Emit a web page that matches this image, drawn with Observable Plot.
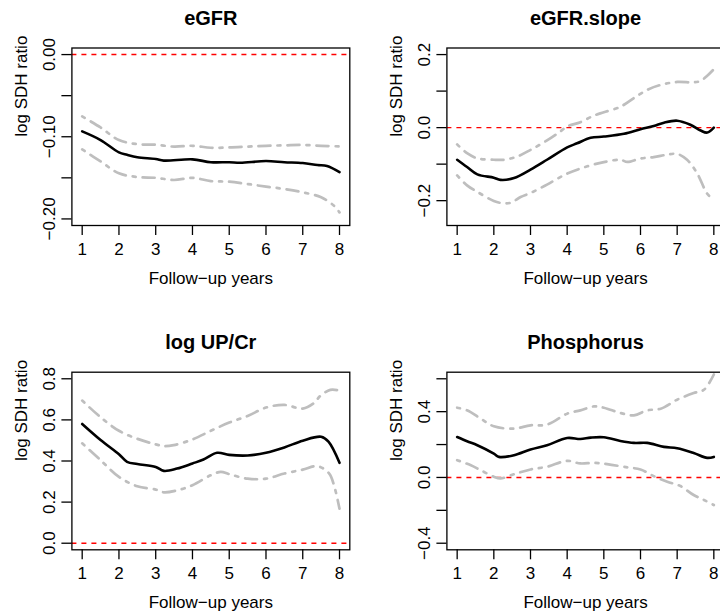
<!DOCTYPE html>
<html><head><meta charset="utf-8">
<script src="https://cdn.jsdelivr.net/npm/d3@7"></script>
<script src="https://cdn.jsdelivr.net/npm/@observablehq/plot@0.6"></script>
<style>
html,body{margin:0;padding:0;background:#fff;overflow:hidden}
#wrap{position:relative;width:720px;height:615px;overflow:hidden;background:#fff}
#wrap svg{position:absolute}
</style></head><body><div id="wrap"></div>
<script>
// ---------- data ----------
const titles = ["eGFR", "eGFR.slope", "log UP/Cr", "Phosphorus"];
const xTicks = [1, 2, 3, 4, 5, 6, 7, 8];
const xLabel = "Follow\u2212up years";
const yLabel = "log SDH ratio";

// eGFR
const egfrEstYears = [1, 1.5, 2, 2.22, 2.5, 3, 3.22, 4, 4.5, 5, 5.3, 6, 6.5, 7, 7.4, 7.66, 8];
const egfrEst = [-0.0935, -0.104, -0.119, -0.122, -0.125, -0.127, -0.129, -0.1275, -0.131, -0.131, -0.1316, -0.1296, -0.131, -0.132, -0.1344, -0.1355, -0.143];
const egfrHiYears = [1, 1.5, 2, 2.5, 3, 3.5, 4, 4.5, 5, 5.5, 6, 6.5, 7, 7.5, 8];
const egfrHi = [-0.0753, -0.0887, -0.104, -0.109, -0.1097, -0.112, -0.111, -0.1134, -0.113, -0.112, -0.111, -0.1105, -0.110, -0.111, -0.1117];
const egfrLoYears = [1, 1.5, 2, 2.5, 3, 3.5, 4, 4.5, 5, 5.5, 6, 6.5, 7, 7.5, 7.85, 8];
const egfrLo = [-0.1154, -0.130, -0.1445, -0.149, -0.150, -0.1526, -0.150, -0.154, -0.1547, -0.1575, -0.1607, -0.1636, -0.1676, -0.1737, -0.184, -0.192];
const egfrYTicks = [0, -0.05, -0.1, -0.15, -0.2];
const egfrYLabels = ["0.00", "", "\u22120.10", "", "\u22120.20"];

// eGFR.slope
const slopeEstYears = [1, 1.27, 1.55, 2, 2.18, 2.55, 3, 3.45, 4, 4.27, 4.64, 5, 5.55, 6, 6.36, 6.64, 7, 7.36, 7.64, 7.82, 8];
const slopeEst = [-0.088, -0.108, -0.128, -0.137, -0.143, -0.138, -0.115, -0.088, -0.054, -0.043, -0.028, -0.0245, -0.017, -0.0045, 0.0045, 0.0136, 0.019, 0.008, -0.008, -0.0136, 0.0];
const slopeHiYears = [1, 1.27, 1.55, 2, 2.27, 2.64, 3, 3.45, 3.82, 4, 4.36, 4.73, 5, 5.45, 5.82, 6.18, 6.55, 7, 7.45, 7.64, 7.82, 8];
const slopeHi = [-0.046, -0.070, -0.084, -0.088, -0.088, -0.079, -0.061, -0.035, -0.010, 0.003, 0.015, 0.033, 0.042, 0.057, 0.081, 0.103, 0.117, 0.125, 0.124, 0.128, 0.142, 0.160];
const slopeLoYears = [1, 1.27, 1.55, 2, 2.18, 2.45, 2.73, 3, 3.45, 4, 4.55, 5, 5.45, 5.64, 6, 6.36, 6.73, 7, 7.27, 7.55, 7.82, 8];
const slopeLo = [-0.131, -0.158, -0.176, -0.201, -0.206, -0.206, -0.190, -0.179, -0.156, -0.126, -0.106, -0.0945, -0.088, -0.094, -0.0845, -0.081, -0.074, -0.072, -0.088, -0.126, -0.181, -0.197];
const slopeYTicks = [0.2, 0.1, 0, -0.1, -0.2];
const slopeYLabels = ["0.2", "", "0.0", "", "\u22120.2"];

// log UP/Cr
const upcrEstYears = [1, 1.5, 2, 2.22, 2.5, 3, 3.22, 3.58, 4, 4.3, 4.67, 5, 5.5, 6, 6.5, 7, 7.5, 7.7, 8];
const upcrEst = [0.580, 0.502, 0.433, 0.396, 0.385, 0.371, 0.352, 0.363, 0.388, 0.407, 0.440, 0.430, 0.427, 0.440, 0.466, 0.499, 0.518, 0.494, 0.391];
const upcrHiYears = [1, 1.5, 2, 2.5, 3, 3.22, 3.49, 4, 4.5, 5, 5.5, 6, 6.5, 7, 7.3, 7.48, 7.75, 8];
const upcrHi = [0.694, 0.613, 0.547, 0.508, 0.481, 0.4725, 0.477, 0.505, 0.547, 0.587, 0.619, 0.660, 0.673, 0.655, 0.681, 0.717, 0.746, 0.743];
const upcrLoYears = [1, 1.5, 2, 2.5, 3, 3.22, 3.58, 4, 4.5, 4.77, 5, 5.5, 6, 6.5, 7, 7.4, 7.72, 7.85, 8];
const upcrLo = [0.486, 0.404, 0.3226, 0.277, 0.261, 0.2477, 0.257, 0.282, 0.331, 0.347, 0.336, 0.314, 0.314, 0.339, 0.358, 0.375, 0.339, 0.282, 0.168];
const upcrYTicks = [0, 0.2, 0.4, 0.6, 0.8];
const upcrYLabels = ["0.0", "0.2", "0.4", "0.6", "0.8"];

// Phosphorus
const phosEstYears = [1, 1.27, 1.55, 2, 2.14, 2.55, 3, 3.45, 4, 4.36, 4.64, 5, 5.45, 5.82, 6.18, 6.64, 7, 7.45, 7.82, 8];
const phosEst = [0.246, 0.220, 0.196, 0.145, 0.125, 0.135, 0.170, 0.196, 0.240, 0.234, 0.242, 0.244, 0.222, 0.210, 0.210, 0.186, 0.178, 0.149, 0.119, 0.125];
const phosHiYears = [1, 1.27, 1.64, 2, 2.55, 3, 3.45, 4, 4.36, 4.73, 5, 5.45, 5.82, 6.18, 6.55, 7, 7.45, 7.73, 8];
const phosHi = [0.424, 0.408, 0.358, 0.311, 0.297, 0.317, 0.321, 0.388, 0.408, 0.432, 0.424, 0.392, 0.378, 0.408, 0.418, 0.473, 0.513, 0.533, 0.626];
const phosLoYears = [1, 1.36, 1.64, 2, 2.18, 2.55, 3, 3.45, 4, 4.36, 4.73, 5.09, 5.64, 6, 6.36, 6.73, 7.09, 7.45, 7.73, 8];
const phosLo = [0.105, 0.075, 0.044, 0.004, -0.006, 0.020, 0.0485, 0.065, 0.101, 0.085, 0.089, 0.081, 0.061, 0.0485, 0.008, -0.026, -0.0525, -0.107, -0.137, -0.168];
const phosYTicks = [0.6, 0.4, 0.2, 0, -0.2, -0.4];
const phosYLabels = ["", "0.4", "", "0.0", "", "\u22120.4"];

// ---------- drawing ----------
const pts = (xs, ys) => xs.map((x, i) => ({year: x, value: ys[i]}));
const fontFamily = "'Liberation Sans', Arial, Helvetica, sans-serif";
const xDomain = [0.72, 8.28];

function panel(o) {
  const fmt = d => { const i = o.yTicks.indexOf(d); return i < 0 ? "" : o.yLabels[i]; };
  const svg = Plot.plot({
    width: o.width, height: o.height,
    marginLeft: o.mL, marginRight: o.mR, marginTop: o.mT, marginBottom: o.mB,
    x: {domain: xDomain},
    y: {domain: o.yDomain},
    style: {fontFamily, fontSize: "17px", background: "transparent", color: "black", overflow: "visible"},
    marks: [
      Plot.ruleY([0], {stroke: "#ff0000", strokeWidth: 1.4, strokeDasharray: "5,5"}),
      Plot.line(o.hi, {x: "year", y: "value", stroke: "#bebebe", strokeWidth: 2.7, strokeDasharray: "3,7,12,7", curve: "catmull-rom"}),
      Plot.line(o.lo, {x: "year", y: "value", stroke: "#bebebe", strokeWidth: 2.7, strokeDasharray: "3,7,12,7", curve: "catmull-rom"}),
      Plot.line(o.est, {x: "year", y: "value", stroke: "black", strokeWidth: 2.6, curve: "catmull-rom"}),
      Plot.frame({stroke: "black", strokeWidth: 1.3}),
      Plot.axisX({ticks: xTicks, tickSize: 10, tickPadding: 7, label: null, tickFormat: d => String(d), strokeWidth: 1.3}),
      Plot.axisY({ticks: o.yTicks, tickSize: 10, tickPadding: 6.5, tickRotate: -90, label: null, tickFormat: fmt, strokeWidth: 1.3}),
      Plot.text([o.title], {text: d => d, frameAnchor: "top", dy: -23, lineAnchor: "bottom", fontWeight: "bold", fontSize: 20}),
      Plot.text([xLabel], {text: d => d, frameAnchor: "bottom", dy: 58, lineAnchor: "bottom"}),
      Plot.text([yLabel], {text: d => d, frameAnchor: "left", dx: -44.5, rotate: -90, lineAnchor: "bottom"})
    ]
  });
  svg.style.left = o.left + "px";
  svg.style.top = o.top + "px";
  document.getElementById("wrap").appendChild(svg);
}

panel({title: titles[0], est: pts(egfrEstYears, egfrEst), lo: pts(egfrLoYears, egfrLo), hi: pts(egfrHiYears, egfrHi),
  yDomain: [-0.208, 0.008], yTicks: egfrYTicks, yLabels: egfrYLabels,
  left: 0, top: 0, width: 360, height: 308, mL: 71.4, mR: 10.7, mT: 47.5, mB: 83});
panel({title: titles[1], est: pts(slopeEstYears, slopeEst), lo: pts(slopeLoYears, slopeLo), hi: pts(slopeHiYears, slopeHi),
  yDomain: [-0.268, 0.218], yTicks: slopeYTicks, yLabels: slopeYLabels,
  left: 360, top: 0, width: 370, height: 308, mL: 86.4, mR: 6.4, mT: 47.5, mB: 83});
panel({title: titles[2], est: pts(upcrEstYears, upcrEst), lo: pts(upcrLoYears, upcrLo), hi: pts(upcrHiYears, upcrHi),
  yDomain: [-0.032, 0.832], yTicks: upcrYTicks, yLabels: upcrYLabels,
  left: 0, top: 308, width: 360, height: 307, mL: 71.4, mR: 10.7, mT: 63.7, mB: 65.7});
panel({title: titles[3], est: pts(phosEstYears, phosEst), lo: pts(phosLoYears, phosLo), hi: pts(phosHiYears, phosHi),
  yDomain: [-0.44, 0.64], yTicks: phosYTicks, yLabels: phosYLabels,
  left: 360, top: 308, width: 370, height: 307, mL: 86.4, mR: 6.4, mT: 63.7, mB: 65.7});
</script></body></html>
